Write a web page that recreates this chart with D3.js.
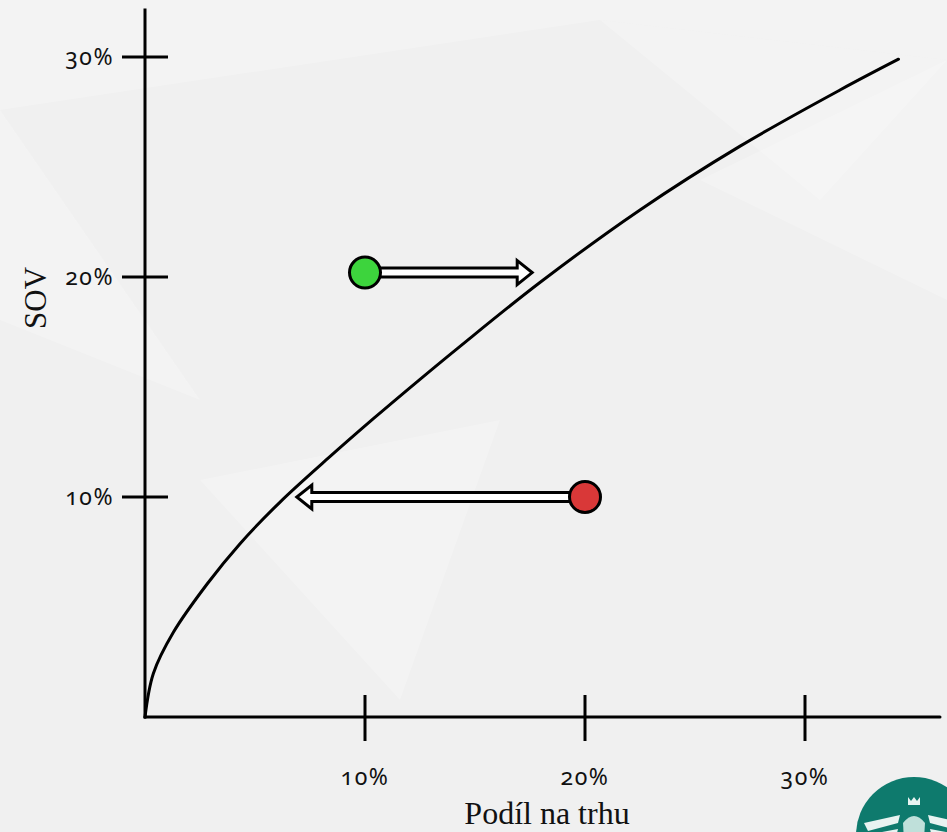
<!DOCTYPE html>
<html><head><meta charset="utf-8">
<script src="https://cdn.jsdelivr.net/npm/d3@7"></script>
<style>
html,body{margin:0;padding:0;background:#f2f2f2;overflow:hidden}
svg{display:block}
.tick-label{font-family:"Noto Sans",sans-serif;font-variant-numeric:oldstyle-nums;font-feature-settings:"onum" 1;fill:#111}
.title{font-family:"Liberation Serif","DejaVu Serif",serif;fill:#111}
</style>
</head><body>
<script>
// Data (percent values)
const xTicks = [10, 20, 30];
const yTicks = [10, 20, 30];
const xTickLabels = ["10%", "20%", "30%"];
const yTickLabels = ["10%", "20%", "30%"];
const curveX = [0, 0.38, 1.29, 2.85, 4.32, 6.14, 8.3, 10.38, 12.5, 14.32, 17.95, 22.5, 27.05, 31.59, 34.25];
const curveY = [0, 1.98, 3.85, 6.08, 7.88, 9.77, 11.74, 13.56, 15.35, 16.85, 19.75, 23.05, 25.95, 28.5, 29.9];
const pointNames = ["growth", "decline"];
const pointX = [10, 20];
const pointY = [20.2, 10];
const arrowTipX = [17.6, 6.9];
const pointColors = ["#3dd43d", "#d93838"];
const xTitle = "Podíl na trhu";
const yTitle = "SOV";

const W = 947, H = 832;
const svg = d3.select("body").append("svg").attr("width", W).attr("height", H);

// background
svg.append("rect").attr("width", W).attr("height", H).attr("fill", "#f0f0f0");
const bgPolys = [
  [[0,0],[947,0],[947,60],[600,20],[0,110]],
  [[600,20],[947,60],[820,200]],
  [[0,110],[0,320],[200,400]],
  [[700,180],[947,60],[947,300]],
  [[200,480],[500,420],[400,700]]
];
svg.append("g").selectAll("polygon").data(bgPolys).join("polygon")
  .attr("points", d => d.map(p => p.join(",")).join(" "))
  .attr("fill", "#ffffff").attr("opacity", 0.22);

const x = d3.scaleLinear().domain([0, 10]).range([145, 365]);
const y = d3.scaleLinear().domain([0, 10]).range([717, 497]);

// axes lines
const g = svg.append("g");
g.append("line").attr("x1", x(0)).attr("x2", x(0)).attr("y1", 10).attr("y2", y(0))
  .attr("stroke", "#000").attr("stroke-width", 3).attr("stroke-linecap","square");
g.append("line").attr("x1", x(0)).attr("x2", 940).attr("y1", y(0)).attr("y2", y(0))
  .attr("stroke", "#000").attr("stroke-width", 3).attr("stroke-linecap","round");

// x ticks
g.selectAll(".xt").data(xTicks).join("line")
  .attr("x1", d => x(d)).attr("x2", d => x(d)).attr("y1", y(0) - 22).attr("y2", y(0) + 24)
  .attr("stroke", "#000").attr("stroke-width", 3);
g.selectAll(".xl").data(xTicks).join("text").attr("class", "tick-label")
  .attr("x", d => x(d)).attr("y", 785).attr("text-anchor", "middle")
  .attr("font-size", 23).attr("letter-spacing", 1.5)
  .text((d, i) => xTickLabels[i]);

// y ticks
g.selectAll(".yt").data(yTicks).join("line")
  .attr("x1", x(0) - 23).attr("x2", x(0) + 23).attr("y1", d => y(d)).attr("y2", d => y(d))
  .attr("stroke", "#000").attr("stroke-width", 3);
g.selectAll(".yl").data(yTicks).join("text").attr("class", "tick-label")
  .attr("x", 114).attr("y", d => y(d) + 8).attr("text-anchor", "end")
  .attr("font-size", 23).attr("letter-spacing", 1.5)
  .text((d, i) => yTickLabels[i]);

// titles
svg.append("text").attr("class", "title").attr("x", 547).attr("y", 824)
  .attr("text-anchor", "middle").attr("font-size", 32).text(xTitle);
svg.append("text").attr("class", "title").attr("transform", "translate(46,298) rotate(-90)")
  .attr("text-anchor", "middle").attr("font-size", 31).text(yTitle);

// curve
const line = d3.line().x(d => x(d[0])).y(d => y(d[1])).curve(d3.curveCatmullRom.alpha(0.5));
svg.append("path").datum(curveX.map((v, i) => [v, curveY[i]]))
  .attr("d", line).attr("fill", "none").attr("stroke", "#000").attr("stroke-width", 3)
  .attr("stroke-linecap", "round");

// arrows (hollow)
const r = 15.5, sh = 4.5, hh = 12, hl = 15;
pointNames.forEach((n, i) => {
  const x0 = x(pointX[i]), yy = y(pointY[i]), xt = x(arrowTipX[i]);
  const dir = xt > x0 ? 1 : -1;
  const xs = x0 + dir * (r - 2);
  const xb = xt - dir * hl;
  const pts = [[xs, yy - sh], [xb, yy - sh], [xb, yy - hh], [xt, yy], [xb, yy + hh], [xb, yy + sh], [xs, yy + sh]];
  svg.append("path").attr("d", "M" + pts.map(p => p.join(",")).join("L") + "Z")
    .attr("fill", "#fff").attr("stroke", "#000").attr("stroke-width", 3).attr("stroke-linejoin", "miter");
  svg.append("circle").attr("cx", x0).attr("cy", yy).attr("r", r)
    .attr("fill", pointColors[i]).attr("stroke", "#000").attr("stroke-width", 3);
});

// logo (partial, bottom right)
const logo = svg.append("g").attr("transform", "translate(914,835)");
logo.append("circle").attr("r", 58).attr("fill", "#0e7a6d");
logo.append("path").attr("d", "M-50,-12 L-14,-20 L-16,-12 L-46,-4 Z M-48,0 L-16,-6 L-18,2 L-44,8 Z M-44,12 L-18,8 L-20,16 L-40,20 Z").attr("fill", "#e8f3f1");
logo.append("path").attr("d", "M50,-12 L14,-20 L16,-12 L46,-4 Z M48,0 L16,-6 L18,2 L44,8 Z").attr("fill", "#e8f3f1");
logo.append("path").attr("d", "M-11,-12 Q0,-26 11,-12 L9,22 L-9,22 Z").attr("fill", "#bfe0da");
logo.append("path").attr("d", "M-6,-38 L-6,-30 L6,-30 L6,-38 L3,-34 L0,-38 L-3,-34 Z").attr("fill", "#e8f3f1");
</script>
</body></html>
